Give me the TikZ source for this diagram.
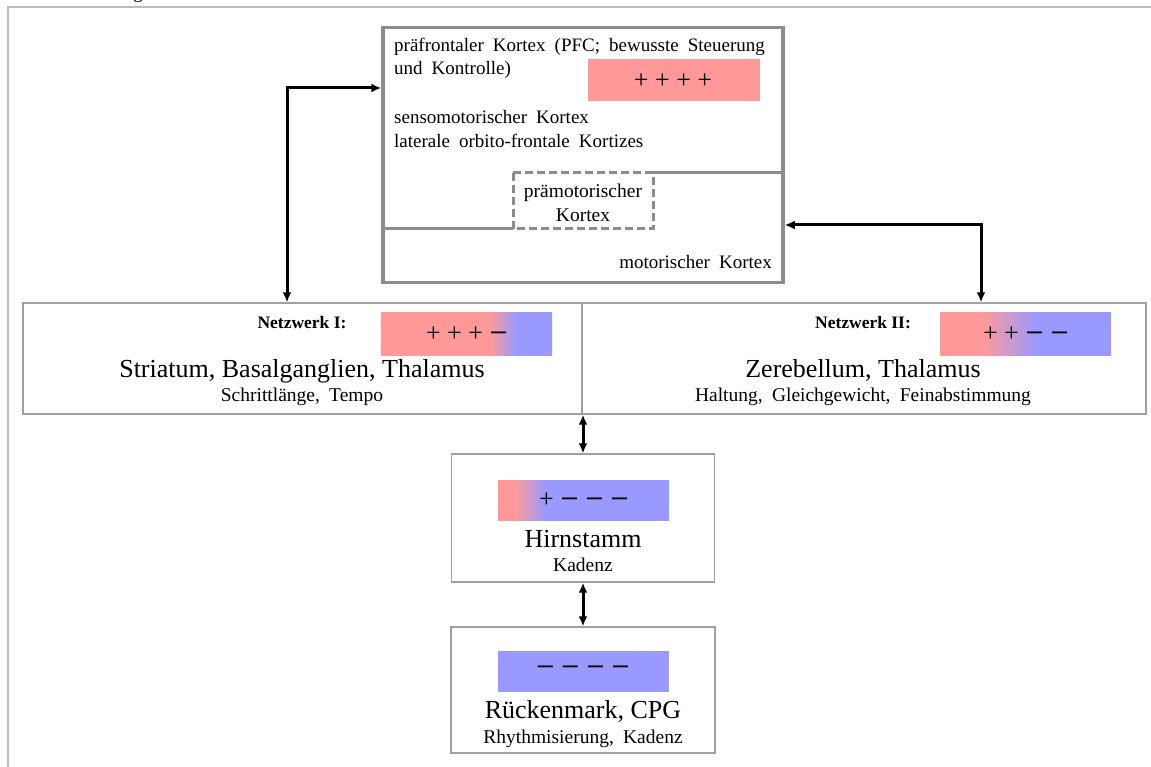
\documentclass[tikz,border=0pt]{standalone}
\usepackage{fontspec}
\usepackage{graphicx}
\setmainfont{Liberation Serif}
\newfontfamily\widefont[WordSpace=1.9]{Liberation Serif}
\usetikzlibrary{arrows.meta}
\definecolor{pinkred}{HTML}{FF9999}
\definecolor{lavblue}{HTML}{9999FF}
\definecolor{boxgray}{HTML}{8C8C8C}
\definecolor{thingray}{HTML}{A0A0A0}
\definecolor{framegray}{HTML}{BDBDBD}
\pgfdeclarehorizontalshading{gradI}{100bp}{color(0bp)=(pinkred); color(56.9bp)=(pinkred); color(64.8bp)=(lavblue); color(100bp)=(lavblue)}
\pgfdeclarehorizontalshading{gradII}{100bp}{color(0bp)=(pinkred); color(37.3bp)=(pinkred); color(53.5bp)=(lavblue); color(100bp)=(lavblue)}
\pgfdeclarehorizontalshading{gradH}{100bp}{color(0bp)=(pinkred); color(30bp)=(pinkred); color(39bp)=(lavblue); color(100bp)=(lavblue)}
\newcommand\mn{\scalebox{1.25}[1]{\textbf{\char"2212}}}
\begin{document}
\begin{tikzpicture}[x=1pt,y=-1pt,
  cortexbox/.style={draw=boxgray, line width=3.5pt, inner sep=0pt},
  netbox/.style={draw=thingray, line width=1.4pt, inner sep=0pt},
  ctxt/.style={font=\widefont\fontsize{19}{23}\selectfont, inner sep=0pt, anchor=base west},
  ctxtc/.style={font=\fontsize{19.5}{23}\selectfont, inner sep=0pt, anchor=base},
  bigtxt/.style={font=\fontsize{26}{30}\selectfont, inner sep=0pt, anchor=base},
  smalltxt/.style={font=\widefont\fontsize{19.5}{23}\selectfont, inner sep=0pt, anchor=base},
  boldtxt/.style={font=\bfseries\fontsize{17.5}{21}\selectfont, inner sep=0pt, anchor=base},
  signtxt/.style={font=\fontsize{26}{30}\selectfont, inner sep=0pt},
  conn/.style={line width=3pt, {Latex[length=10pt,width=9pt]}-{Latex[length=10pt,width=9pt]}}
]
\useasboundingbox (0,0) rectangle (1151,767);
% outer frame
\draw[framegray, line width=1.5pt] (8,767) -- (8,7) -- (1151,7);
\node[font=\fontsize{19}{23}\selectfont, inner sep=0pt, anchor=base] (gfrag) at (138,-1) {g};

% cortex box
\node[cortexbox, minimum width=400pt, minimum height=255pt] (cortex) at (583,155) {};
\fill[pinkred] (588,59) rectangle (760,101);
\node[signtxt] (s1) at (673,81) {+ + + +};
\node[ctxt] (c1) at (394,52) {präfrontaler Kortex (PFC; bewusste Steuerung};
\node[ctxt] (c2) at (394,75) {und Kontrolle)};
\node[ctxt] (c3) at (394,124) {sensomotorischer Kortex};
\node[ctxt] (c4) at (394,148) {laterale orbito-frontale Kortizes};
\node[ctxtc] (c5) at (583,198) {prämotorischer};
\node[ctxtc] (c6) at (583,222) {Kortex};
\node[ctxt, anchor=base east] (c7) at (772,269) {motorischer Kortex};
\draw[boxgray, line width=3pt] (cortex.west |- 0,229) -- (513,229);
\draw[boxgray, line width=3pt, dash pattern=on 8pt off 4pt] (513,173) rectangle (653,229);
\draw[boxgray, line width=3pt] (653,173) -- (cortex.east |- 0,173);

% network box
\node[netbox, minimum width=1123pt, minimum height=111pt] (net) at (584.5,358.5) {};
\draw[thingray, line width=1.4pt] (net.north -| 582,0) -- (net.south -| 582,0);
% Netzwerk I
\shade[shading=gradI] (381,313) rectangle (552,355);
\node[signtxt] (s2) at (467,334) {+ + + \mn};
\node[boldtxt] (n1) at (302,328) {Netzwerk I:};
\node[bigtxt] (n1a) at (302,377) {Striatum, Basalganglien, Thalamus};
\node[smalltxt] (n1b) at (302,401) {Schrittlänge, Tempo};
% Netzwerk II
\shade[shading=gradII] (940,313) rectangle (1111,355);
\node[signtxt] (s3) at (1026,334) {+ + \mn\ \mn};
\node[boldtxt] (n2) at (863,328) {Netzwerk II:};
\node[bigtxt] (n2a) at (863,377) {Zerebellum, Thalamus};
\node[smalltxt] (n2b) at (863,401) {Haltung, Gleichgewicht, Feinabstimmung};

% Hirnstamm
\node[netbox, minimum width=263pt, minimum height=128pt] (hirn) at (583,518) {};
\shade[shading=gradH] (498,480) rectangle (669,520);
\node[signtxt] (s4) at (584,500) {+ \mn\ \mn\ \mn};
\node[bigtxt] (h1) at (583,547) {Hirnstamm};
\node[smalltxt] (h2) at (583,571) {Kadenz};

% Rueckenmark
\node[netbox, minimum width=264pt, minimum height=126pt] (rueck) at (583,690) {};
\fill[lavblue] (498,651) rectangle (669,692);
\node[signtxt] (s5) at (583,671) {\mn\ \mn\ \mn\ \mn};
\node[bigtxt] (r1) at (583,718) {Rückenmark, CPG};
\node[smalltxt] (r2) at (583,743) {Rhythmisierung, Kadenz};

% connectors
\draw[conn] (cortex.west |- 0,88) -| (net.north -| 287,0);
\draw[conn] (cortex.east |- 0,225) -| (net.north -| 981,0);
\draw[conn] (net.south -| hirn.north) -- (hirn.north);
\draw[conn] (hirn.south) -- (rueck.north);
\end{tikzpicture}
\end{document}
